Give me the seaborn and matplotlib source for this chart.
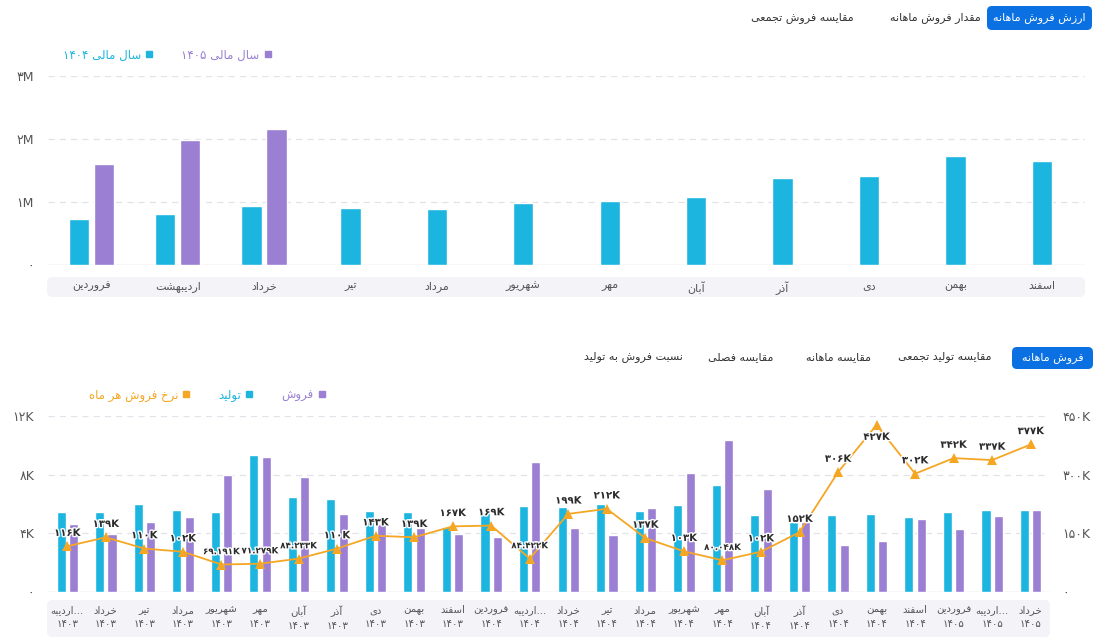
import re
import numpy as np
import matplotlib.pyplot as plt
import matplotlib.patheffects as pe
from matplotlib.lines import Line2D
from matplotlib.patches import FancyBboxPatch
import seaborn as sns

# ---------------- داده ها ----------------
months_top = ['فروردین', 'اردیبهشت', 'خرداد', 'تیر', 'مرداد', 'شهریور',
              'مهر', 'آبان', 'آذر', 'دی', 'بهمن', 'اسفند']
# ارزش فروش ماهانه (میلیون)
value_1404 = [0.73, 0.81, 0.94, 0.90, 0.89, 0.98, 1.02, 1.08, 1.38, 1.41, 1.73, 1.65]
value_1405 = [1.60, 1.98, 2.16, np.nan, np.nan, np.nan, np.nan, np.nan, np.nan, np.nan, np.nan, np.nan]

months_bottom = ['اردیبه...', 'خرداد', 'تیر', 'مرداد', 'شهریور', 'مهر', 'آبان', 'آذر', 'دی',
                 'بهمن', 'اسفند', 'فروردین', 'اردیبه...', 'خرداد', 'تیر', 'مرداد', 'شهریور',
                 'مهر', 'آبان', 'آذر', 'دی', 'بهمن', 'اسفند', 'فروردین', 'اردیبه...', 'خرداد']
years_bottom = ['1403'] * 11 + ['1404'] * 12 + ['1405'] * 3
# تولید و فروش (هزار)
production = [5.45, 5.41, 5.96, 5.55, 5.41, 9.35, 6.48, 6.32, 5.48, 5.45, 4.43, 5.41, 5.84,
              5.75, 5.96, 5.52, 5.89, 7.30, 5.21, 4.77, 5.23, 5.30, 5.11, 5.41, 5.55, 5.55]
sales = [4.61, 3.93, 4.73, 5.11, 7.98, 9.17, 7.80, 5.28, 4.59, 4.36, 3.93, 3.75, 8.85,
         4.36, 3.86, 5.71, 8.12, 10.33, 7.00, 4.77, 3.20, 3.45, 4.93, 4.25, 5.16, 5.55]
# نرخ فروش هر ماه (هزار)
rate = [116, 139, 110, 102, 69.191, 71.279, 84.233, 110, 143, 139, 167, 169, 84.422,
        199, 212, 137, 103, 80.048, 102, 152, 306, 427, 302, 342, 337, 377]

CYAN = '#1cb5e0'
PURPLE = '#9b7fd3'
ORANGE = '#f5a623'
BLUE = '#0b71e3'
GREY = '#555555'

# ---------------- شکل دادن حروف فارسی ----------------
DUAL = {  # isolated, final, initial, medial
    0x0628: (0xFE8F, 0xFE90, 0xFE91, 0xFE92), 0x067E: (0xFB56, 0xFB57, 0xFB58, 0xFB59),
    0x062A: (0xFE95, 0xFE96, 0xFE97, 0xFE98), 0x062C: (0xFE9D, 0xFE9E, 0xFE9F, 0xFEA0),
    0x062D: (0xFEA1, 0xFEA2, 0xFEA3, 0xFEA4), 0x062E: (0xFEA5, 0xFEA6, 0xFEA7, 0xFEA8),
    0x0633: (0xFEB1, 0xFEB2, 0xFEB3, 0xFEB4), 0x0634: (0xFEB5, 0xFEB6, 0xFEB7, 0xFEB8),
    0x0635: (0xFEB9, 0xFEBA, 0xFEBB, 0xFEBC), 0x0639: (0xFEC9, 0xFECA, 0xFECB, 0xFECC),
    0x0641: (0xFED1, 0xFED2, 0xFED3, 0xFED4), 0x0642: (0xFED5, 0xFED6, 0xFED7, 0xFED8),
    0x06A9: (0xFB8E, 0xFB8F, 0xFB90, 0xFB91), 0x06AF: (0xFB92, 0xFB93, 0xFB94, 0xFB95),
    0x0644: (0xFEDD, 0xFEDE, 0xFEDF, 0xFEE0), 0x0645: (0xFEE1, 0xFEE2, 0xFEE3, 0xFEE4),
    0x0646: (0xFEE5, 0xFEE6, 0xFEE7, 0xFEE8), 0x0647: (0xFEE9, 0xFEEA, 0xFEEB, 0xFEEC),
    0x06CC: (0xFBFC, 0xFBFD, 0xFBFE, 0xFBFF),
}
RIGHT = {  # isolated, final
    0x0627: (0xFE8D, 0xFE8E), 0x0622: (0xFE81, 0xFE82), 0x062F: (0xFEA9, 0xFEAA),
    0x0630: (0xFEAB, 0xFEAC), 0x0631: (0xFEAD, 0xFEAE), 0x0632: (0xFEAF, 0xFEB0),
    0x0648: (0xFEED, 0xFEEE),
}
FA_DIGITS = str.maketrans('0123456789', '۰۱۲۳۴۵۶۷۸۹')


def fa_num(s):
    return str(s).translate(FA_DIGITS)


def fa(text):
    if text.endswith('...'):
        return fa(text[:-3]) + '...'
    text = fa_num(text.replace('ي', 'ی').replace('ك', 'ک'))
    codes = [ord(c) for c in text]
    out = []
    for i, c in enumerate(codes):
        if c in DUAL or c in RIGHT:
            prev = codes[i - 1] if i > 0 else None
            nxt = codes[i + 1] if i + 1 < len(codes) else None
            jp = prev in DUAL
            jn = c in DUAL and (nxt in DUAL or nxt in RIGHT)
            forms = DUAL.get(c) or RIGHT[c]
            if jp and jn:
                out.append(chr(forms[3]))
            elif jp:
                out.append(chr(forms[1]))
            elif jn:
                out.append(chr(forms[2]))
            else:
                out.append(chr(forms[0]))
        else:
            out.append(chr(c))
    s = ''.join(out)[::-1]
    return re.sub(r'[0-9۰-۹.K]+', lambda m: m.group(0)[::-1], s)


sns.set_style('white')
plt.rcParams['font.family'] = ['DejaVu Sans']

W, H = 1100, 644
fig = plt.figure(figsize=(11, 6.44), dpi=100)


def px_axes(x0, y0, x1, y1):
    return fig.add_axes([x0 / W, 1 - y1 / H, (x1 - x0) / W, (y1 - y0) / H])


def rounded(x0, y0, x1, y1, color, r=0.005):
    p = FancyBboxPatch((x0 / W, 1 - y1 / H), (x1 - x0) / W, (y1 - y0) / H,
                       boxstyle=f'round,pad=0,rounding_size={r}', mutation_aspect=W / H,
                       transform=fig.transFigure, fc=color, ec='none', zorder=-1)
    fig.patches.append(p)


def button(x, y, label):
    fig.text(x / W, 1 - y / H, fa(label), ha='center', va='center', fontsize=8, color='#333333')


def active_button(x0, y0, x1, y1, label):
    rounded(x0, y0, x1, y1, BLUE, r=0.0045)
    fig.text((x0 + x1) / 2 / W, 1 - (y0 + y1) / 2 / H, fa(label), ha='center', va='center',
             fontsize=8, color='white')


def style_axis(ax):
    for s in ax.spines.values():
        s.set_visible(False)
    ax.set_xlabel('')
    ax.set_ylabel('')


# ---------------- نمودار بالا ----------------
active_button(987, 6, 1092, 30, 'ارزش فروش ماهانه')
button(935, 18, 'مقدار فروش ماهانه')
button(802, 18, 'مقایسه فروش تجمعی')

ax1 = px_axes(48, 76, 1085, 265)
v04 = np.array(value_1404)
v05 = np.array(value_1405, dtype=float)
has05 = ~np.isnan(v05)
idx1 = np.arange(len(months_top))
x04 = idx1 - np.where(has05, 0.145, 0.0)
x05 = idx1[has05] + 0.145
sns.barplot(x=x04, y=v04, native_scale=True, orient='x', width=0.235, color=CYAN,
            saturation=1, errorbar=None, ax=ax1)
sns.barplot(x=x05, y=v05[has05], native_scale=True, orient='x', width=0.235, color=PURPLE,
            saturation=1, errorbar=None, ax=ax1)
ax1.set_xlim(-0.5, len(months_top) - 0.5)
ax1.set_ylim(0, 3)
ax1.set_yticks([0, 1, 2, 3])
ax1.set_yticklabels([fa_num(t) + ('M' if t else '') for t in [0, 1, 2, 3]])
ax1.set_xticks(idx1)
ax1.set_xticklabels([fa(m) for m in months_top])
ax1.tick_params(axis='x', length=0, pad=11.5, labelsize=8, labelcolor=GREY)
ax1.tick_params(axis='y', length=0, pad=10, labelsize=9, labelcolor=GREY)
ax1.yaxis.grid(True, linestyle=(0, (5, 4)), color='#e2e2ea', linewidth=0.9)
ax1.set_axisbelow(True)
ax1.axhline(0, color='#e2e2ea', linewidth=1, zorder=0)
style_axis(ax1)
rounded(47, 277, 1085, 297, '#f3f3f8')

leg1 = [Line2D([], [], marker='s', ls='', color=CYAN, markersize=4.5),
        Line2D([], [], marker='s', ls='', color=PURPLE, markersize=4.5)]
fig.legend(leg1, [fa('سال مالی 1404'), fa('سال مالی 1405')], loc='center left',
           bbox_to_anchor=(52 / W, 1 - 55 / H), ncol=2, frameon=False, markerfirst=False,
           fontsize=8.5, handlelength=0.6, handletextpad=0.4, columnspacing=2.4,
           labelcolor=[CYAN, PURPLE])

# ---------------- نمودار پایین ----------------
active_button(1012, 347, 1093, 369, 'فروش ماهانه')
button(945, 357, 'مقایسه تولید تجمعی')
button(838, 357, 'مقایسه ماهانه')
button(741, 357, 'مقایسه فصلی')
button(633, 357, 'نسبت فروش به تولید')

ax3 = px_axes(48, 416, 1050, 591.5)
idx3 = np.arange(len(months_bottom))
sns.barplot(x=idx3 - 0.16, y=production, native_scale=True, orient='x', width=0.235,
            color=CYAN, saturation=1, errorbar=None, ax=ax3)
sns.barplot(x=idx3 + 0.16, y=sales, native_scale=True, orient='x', width=0.235,
            color=PURPLE, saturation=1, errorbar=None, ax=ax3)
ax3.set_xlim(-0.5, len(months_bottom) - 0.5)
ax3.set_ylim(0, 12)
ax3.set_yticks([0, 4, 8, 12])
ax3.set_yticklabels([fa_num(t) + ('K' if t else '') for t in [0, 4, 8, 12]])
ax3.set_xticks(idx3)
ax3.set_xticklabels([fa(m) + '\n' + fa_num(y) for m, y in zip(months_bottom, years_bottom)])
for t in ax3.get_xticklabels():
    t.set_linespacing(1.5)
ax3.tick_params(axis='x', length=0, pad=10, labelsize=7.3, labelcolor=GREY)
ax3.tick_params(axis='y', length=0, pad=10, labelsize=9, labelcolor=GREY)
ax3.yaxis.grid(True, linestyle=(0, (5, 4)), color='#e2e2ea', linewidth=0.9)
ax3.set_axisbelow(True)
ax3.axhline(0, color='#e2e2ea', linewidth=1, zorder=0)
style_axis(ax3)
rounded(47, 600, 1050, 637, '#f3f3f8')

ax4 = ax3.twinx()
sns.lineplot(x=idx3, y=rate, ax=ax4, color=ORANGE, linewidth=1.3, marker='^',
             markersize=7, markeredgecolor=ORANGE, markeredgewidth=0, sort=False)
ax4.set_ylim(0, 450)
ax4.set_yticks([0, 150, 300, 450])
ax4.set_yticklabels([fa_num(t) + ('K' if t else '') for t in [0, 150, 300, 450]])
ax4.tick_params(axis='y', length=0, pad=9, labelsize=9, labelcolor=GREY)
ax4.grid(False)
style_axis(ax4)

for i, v in enumerate(rate):
    below = v > 400
    label = fa_num(f'{v:g}') + 'K'
    ax4.annotate(label, (i, v), xytext=(0, -5 if below else 6),
                 textcoords='offset points', ha='center', va='top' if below else 'bottom',
                 fontsize=6.3 if '.' in label else 7.3, fontweight='bold', color='#2b2b2b',
                 path_effects=[pe.withStroke(linewidth=2, foreground='white')])

leg2 = [Line2D([], [], marker='s', ls='', color=ORANGE, markersize=4.5),
        Line2D([], [], marker='s', ls='', color=CYAN, markersize=4.5),
        Line2D([], [], marker='s', ls='', color=PURPLE, markersize=4.5)]
fig.legend(leg2, [fa('نرخ فروش هر ماه'), fa('تولید'), fa('فروش')], loc='center left',
           bbox_to_anchor=(78 / W, 1 - 395 / H), ncol=3, frameon=False, markerfirst=False,
           fontsize=8.5, handlelength=0.6, handletextpad=0.4, columnspacing=2.4,
           labelcolor=[ORANGE, CYAN, PURPLE])

fig.savefig('out.png', dpi=100)
